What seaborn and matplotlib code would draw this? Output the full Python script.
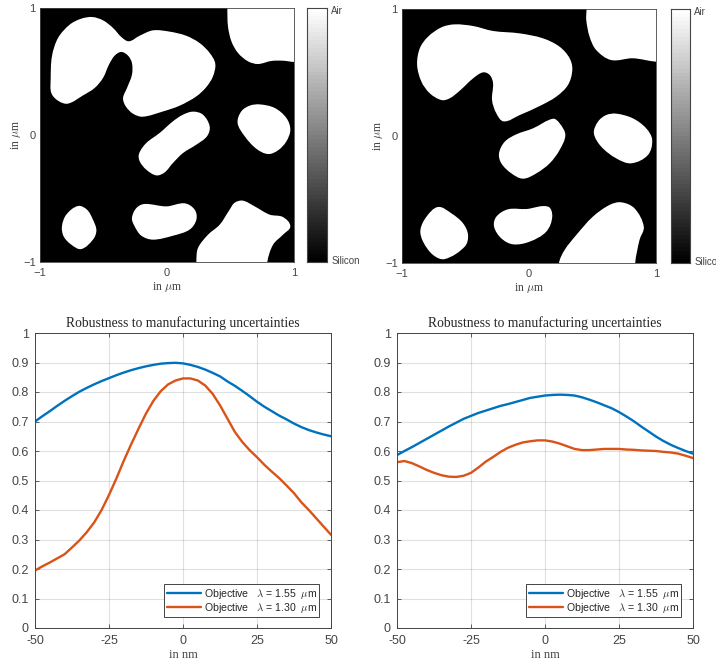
import numpy as np
import matplotlib
matplotlib.use("Agg")
import matplotlib.pyplot as plt
from matplotlib.path import Path
from matplotlib.patches import PathPatch
import seaborn as sns

# ---------- data ----------
NM = [-50, -47.5, -45, -42.5, -40, -37.5, -35, -32.5, -30, -27.5, -25, -22.5, -20, -17.5, -15, -12.5, -10, -7.5, -5, -2.5,
      0, 2.5, 5, 7.5, 10, 12.5, 15, 17.5, 20, 22.5, 25, 27.5, 30, 32.5, 35, 37.5, 40, 42.5, 45, 47.5, 50]
left_155 = [.700, .718, .735, .753, .770, .786, .801, .814, .826, .837, .847, .857, .866, .874, .881, .887, .892, .896, .898, .899,
            .897, .892, .885, .876, .865, .853, .836, .821, .804, .786, .767, .750, .735, .720, .707, .693, .681, .671, .663, .656, .650]
left_130 = [.195, .209, .222, .236, .25, .273, .297, .325, .358, .40, .451, .507, .567, .623, .676, .727, .77, .803, .826, .839,
            .846, .846, .839, .822, .794, .755, .71, .665, .631, .603, .579, .553, .53, .508, .483, .457, .426, .40, .372, .344, .316]
right_155 = [.586, .600, .613, .627, .641, .655, .669, .683, .696, .709, .719, .729, .737, .745, .753, .759, .766, .773, .780, .784,
             .788, .790, .791, .790, .788, .782, .774, .765, .755, .745, .732, .717, .701, .683, .666, .649, .634, .621, .610, .600, .591]
right_130 = [.562, .566, .559, .548, .536, .526, .518, .513, .512, .516, .526, .544, .564, .58, .597, .611, .621, .629, .633, .636,
             .636, .632, .625, .616, .607, .603, .603, .605, .607, .607, .607, .605, .604, .602, .601, .60, .597, .595, .591, .584, .576]

# island outlines, in micrometres (x list, y list)
left_big_x = [-.588,-.504,-.425,-.36,-.30,-.215,-.11,.02,.15,.257,.336,.38,.362,.31,.231,.10,-.03,-.19,-.268,-.325,-.346,-.315,-.276,-.276,-.307,-.36,-.412,-.457,-.504,-.57,-.661,-.78,-.858,-.911,-.916,-.906,-.858,-.766,-.675]
left_big_y = [.929,.903,.843,.772,.738,.782,.824,.814,.782,.724,.646,.562,.462,.378,.304,.231,.186,.144,.168,.226,.291,.37,.475,.567,.625,.654,.625,.554,.449,.37,.312,.247,.27,.331,.436,.619,.764,.869,.916]
left_corner_x = [.475,.475,.48,.507,.559,.638,.717,.822,.913,1.0,1.15,1.15]
left_corner_y = [1.15,1.0,.856,.738,.646,.58,.559,.583,.585,.575,.575,1.15]
left_bean_x = [.205,.283,.336,.315,.231,.126,.047,-.018,-.084,-.163,-.215,-.22,-.163,-.058,.047,.126]
left_bean_y = [.184,.16,.068,-.01,-.076,-.142,-.22,-.294,-.318,-.273,-.207,-.147,-.063,.016,.108,.16]
left_east_x = [.73,.848,.94,.971,.94,.874,.795,.703,.612,.556,.585,.651]
left_east_y = [.241,.213,.134,.042,-.05,-.121,-.15,-.108,-.01,.094,.186,.231]
left_sw_x = [-.701,-.63,-.583,-.556,-.583,-.675,-.753,-.814,-.827,-.793]
left_sw_y = [-.559,-.588,-.667,-.751,-.824,-.898,-.864,-.798,-.719,-.627]
left_south_x = [-.176,-.005,.139,.218,.231,.178,.047,-.11,-.202,-.255,-.276,-.241]
left_south_y = [-.543,-.562,-.538,-.588,-.667,-.745,-.793,-.824,-.793,-.719,-.654,-.575]
left_se_x = [.598,.69,.808,.913,.971,.913,.835,.79,.79,.231,.231,.244,.323,.415,.493,.533]
left_se_y = [-.517,-.562,-.627,-.646,-.719,-.785,-.864,-1.0,-1.15,-1.15,-1.0,-.89,-.785,-.706,-.588,-.533]

right_big_x = [-.585,-.44,-.283,-.073,.110,.241,.32,.341,.307,.215,.084,-.073,-.199,-.257,-.291,-.283,-.309,-.362,-.44,-.545,-.624,-.689,-.781,-.847,-.881,-.86,-.795,-.689]
right_big_y = [.879,.866,.827,.808,.769,.703,.612,.52,.402,.31,.236,.165,.115,.178,.283,.415,.48,.501,.454,.357,.297,.283,.336,.428,.559,.69,.782,.856]
right_corner_x = [.453,.453,.451,.477,.529,.647,.818,1.0,1.15,1.15]
right_corner_y = [1.15,1.0,.913,.782,.677,.598,.612,.585,.585,1.15]
right_bean_x = [.189,.241,.286,.241,.163,.058,-.047,-.139,-.218,-.236,-.191,-.1,.031]
right_bean_y = [.136,.1,.008,-.11,-.215,-.294,-.336,-.294,-.215,-.136,-.045,.013,.06]
right_east_x = [.687,.818,.923,.97,.936,.805,.687,.569,.511,.543,.608]
right_east_y = [.176,.139,.06,-.031,-.15,-.215,-.176,-.084,.021,.113,.165]
right_sw_x = [-.716,-.611,-.519,-.48,-.506,-.663,-.755,-.834,-.855,-.807]
right_sw_y = [-.559,-.609,-.688,-.78,-.871,-.969,-.937,-.832,-.74,-.635]
right_south_x = [-.165,-.021,.149,.183,.136,.005,-.126,-.218,-.275,-.257]
right_south_y = [-.577,-.575,-.556,-.635,-.753,-.832,-.853,-.806,-.714,-.635]
right_se_x = [.726,.831,.904,.87,.836,.836,.236,.236,.28,.372,.503,.634]
right_se_y = [-.522,-.57,-.714,-.819,-1.0,-1.15,-1.15,-1.0,-.898,-.78,-.635,-.543]

left_islands = [(left_big_x, left_big_y), (left_corner_x, left_corner_y), (left_bean_x, left_bean_y),
                (left_east_x, left_east_y), (left_sw_x, left_sw_y), (left_south_x, left_south_y), (left_se_x, left_se_y)]
right_islands = [(right_big_x, right_big_y), (right_corner_x, right_corner_y), (right_bean_x, right_bean_y),
                 (right_east_x, right_east_y), (right_sw_x, right_sw_y), (right_south_x, right_south_y), (right_se_x, right_se_y)]

TITLE = "Robustness to manufacturing uncertainties"
LEG_155 = r"Objective   $\lambda$ = 1.55  $\mu$m"
LEG_130 = r"Objective   $\lambda$ = 1.30  $\mu$m"
UM_LABEL = r"in $\mu$m"
NM_LABEL = "in nm"
BLUE, ORANGE = "#0072BD", "#D95319"
INK = "#454545"

# ---------- style ----------
sns.set_style("white")
plt.rcParams["font.family"] = ["Liberation Sans", "DejaVu Sans"]
plt.rcParams["mathtext.fontset"] = "cm"
W, H = 716, 661
fig = plt.figure(figsize=(W / 100, H / 100), dpi=100)


def px_axes(x0, x1, y0, y1):
    return fig.add_axes([x0 / W, 1 - y1 / H, (x1 - x0) / W, (y1 - y0) / H])


def smooth_path(xs, ys):
    """Closed Bezier outline through the read points, handles scaled to each chord."""
    pts = np.column_stack([xs, ys])
    n = len(pts)
    tang = []
    for i in range(n):
        d = pts[(i + 1) % n] - pts[(i - 1) % n]
        tang.append(d / max(np.hypot(*d), 1e-9))
    verts, codes = [pts[0]], [Path.MOVETO]
    for i in range(n):
        j = (i + 1) % n
        chord = np.hypot(*(pts[j] - pts[i])) / 3
        verts += [pts[i] + tang[i] * chord, pts[j] - tang[j] * chord, pts[j]]
        codes += [Path.CURVE4] * 3
    return Path(verts, codes)


def style_box(ax, lw=0.6):
    for s in ax.spines.values():
        s.set_visible(True)
        s.set_color(INK)
        s.set_linewidth(lw)


def topology(box, cbox, islands):
    ax = px_axes(*box)
    ax.set_facecolor("black")
    for xs, ys in islands:
        ax.add_patch(PathPatch(smooth_path(xs, ys), fc="white", ec="none"))
    ax.set_xlim(-1, 1)
    ax.set_ylim(-1, 1)
    ax.set_xticks([-1, 0, 1])
    ax.set_yticks([-1, 0, 1])
    ax.set_xticklabels(["\u22121", "0", "1"])
    ax.set_yticklabels(["\u22121", "0", "1"])
    ax.tick_params(axis="x", length=0, pad=4, labelsize=8, labelcolor=INK)
    ax.tick_params(axis="y", length=0, pad=3, labelsize=8, labelcolor=INK)
    ax.set_xlabel(UM_LABEL, family="Liberation Serif", fontsize=8.5, color=INK, labelpad=1.5)
    ax.set_ylabel(UM_LABEL, family="Liberation Serif", fontsize=8.5, color=INK, labelpad=0)
    style_box(ax)

    cax = px_axes(*cbox)
    ramp = np.linspace(1, 0, 64).reshape(-1, 1)
    sns.heatmap(ramp, cmap="gray", vmin=0, vmax=1, cbar=False, ax=cax,
                xticklabels=False, yticklabels=False)
    cax.yaxis.tick_right()
    cax.set_yticks([0.6, 63.4])
    cax.set_yticklabels(["Air", "Silicon"], rotation=0)
    cax.tick_params(axis="y", length=0, pad=3, labelsize=7, labelcolor=INK)
    style_box(cax, 0.8)


def robustness(box, blue, orange):
    ax = px_axes(*box)
    sns.lineplot(x=NM, y=blue, color=BLUE, linewidth=1.7, label=LEG_155, ax=ax)
    sns.lineplot(x=NM, y=orange, color=ORANGE, linewidth=1.7, label=LEG_130, ax=ax)
    ax.set_xlim(-50, 50)
    ax.set_ylim(0, 1)
    ax.set_xticks([-50, -25, 0, 25, 50])
    ax.set_xticklabels(["-50", "-25", "0", "25", "50"])
    yt = [i / 10 for i in range(11)]
    ax.set_yticks(yt)
    ax.set_yticklabels(["0"] + [f"{v:.1f}" for v in yt[1:-1]] + ["1"])
    ax.grid(True, color="#262626", alpha=0.14, linewidth=0.8)
    ax.set_axisbelow(True)
    ax.tick_params(direction="in", length=3, width=0.6, color=INK, top=True, right=True,
                   bottom=True, left=True, labelsize=9, labelcolor=INK)
    ax.tick_params(axis="x", pad=5)
    ax.tick_params(axis="y", pad=4.5)
    ax.set_title(TITLE, family="Liberation Serif", fontsize=9.8, color="#262626", pad=4)
    ax.set_xlabel(NM_LABEL, family="Liberation Serif", fontsize=9, color=INK, labelpad=1.5)
    ax.set_ylabel("")
    style_box(ax, 0.7)
    leg = ax.legend(loc="lower right", bbox_to_anchor=(0.96, 0.037), borderaxespad=0,
                    fontsize=7.6, frameon=True, fancybox=False, framealpha=1,
                    edgecolor="#262626", facecolor="white", handlelength=3.3,
                    handletextpad=0.2, borderpad=0.22, labelspacing=0.0, labelcolor="#262626")
    leg.get_frame().set_linewidth(0.6)


topology((40, 294, 8, 262), (307, 327, 8, 262), left_islands)
topology((402, 656, 9, 263), (671, 690, 9, 263), right_islands)
robustness((35, 331, 333, 628), left_155, left_130)
robustness((397, 693, 333, 628), right_155, right_130)

fig.savefig("out.png", dpi=100)
